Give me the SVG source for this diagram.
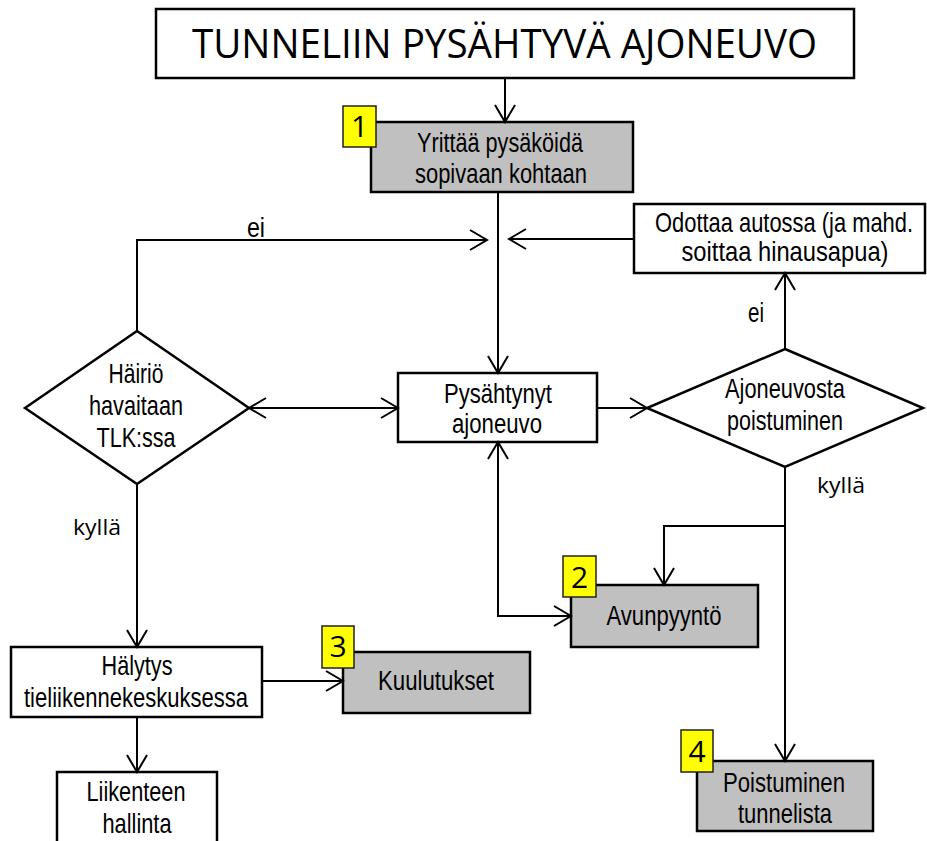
<svg xmlns="http://www.w3.org/2000/svg" width="927" height="841" viewBox="0 0 927 841">
<style>
.box{fill:#ffffff;stroke:#000;stroke-width:2.5}
.gbox{fill:#c0c0c0;stroke:#000;stroke-width:2.5}
.badge{fill:#ffff00;stroke:#222;stroke-width:1.5}
.t{font-family:"Liberation Sans Narrow","Liberation Sans",Arial,sans-serif;font-size:27.5px;fill:#000;text-anchor:middle}
.c{font-family:"Open Sans","Liberation Sans",sans-serif;fill:#000;text-anchor:middle}
.num{font-family:"Open Sans","Liberation Sans",sans-serif;font-size:30px;fill:#000;text-anchor:middle}
.ln{fill:none;stroke:#000;stroke-width:2}
</style>
<defs>
<marker id="ah" viewBox="-19 -12 21 24" refX="0" refY="0" markerWidth="21" markerHeight="24" markerUnits="userSpaceOnUse" orient="auto-start-reverse">
<path d="M-17,-10 L0,0 L-17,10" fill="none" stroke="#000" stroke-width="2"/>
</marker>
</defs>

<g id="title">
<rect class="box" x="156" y="9" width="698" height="69"/>
<text class="c" x="504.5" y="58" font-size="40" textLength="625" lengthAdjust="spacingAndGlyphs">TUNNELIIN PYSÄHTYVÄ AJONEUVO</text>
</g>

<g id="n1">
<rect class="gbox" x="371" y="122" width="262" height="70"/>
<rect class="badge" x="343" y="106" width="33" height="41"/>
<text class="num" x="359.5" y="137">1</text>
<text class="t" x="500" y="152" textLength="166" lengthAdjust="spacingAndGlyphs">Yrittää pysäköidä</text>
<text class="t" x="501" y="183" textLength="172" lengthAdjust="spacingAndGlyphs">sopivaan kohtaan</text>
</g>

<g id="odottaa">
<rect class="box" x="634" y="204" width="291" height="69"/>
<text class="t" x="784" y="232" textLength="258" lengthAdjust="spacingAndGlyphs">Odottaa autossa (ja mahd.</text>
<text class="t" x="785" y="261" textLength="207" lengthAdjust="spacingAndGlyphs">soittaa hinausapua)</text>
</g>

<g id="hairio">
<polygon class="box" points="137,331 249,408 137,484 25,408"/>
<text class="t" x="136" y="383" textLength="55" lengthAdjust="spacingAndGlyphs">Häiriö</text>
<text class="t" x="136" y="415" textLength="94" lengthAdjust="spacingAndGlyphs">havaitaan</text>
<text class="t" x="136" y="447" textLength="79" lengthAdjust="spacingAndGlyphs">TLK:ssa</text>
</g>

<g id="pysahtynyt">
<rect class="box" x="398" y="373" width="199" height="69"/>
<text class="t" x="498" y="403" textLength="108" lengthAdjust="spacingAndGlyphs">Pysähtynyt</text>
<text class="t" x="497" y="433" textLength="90" lengthAdjust="spacingAndGlyphs">ajoneuvo</text>
</g>

<g id="ajoneuvosta">
<polygon class="box" points="785,349 923,408 785,467 647,408"/>
<text class="t" x="785" y="398" textLength="120" lengthAdjust="spacingAndGlyphs">Ajoneuvosta</text>
<text class="t" x="785" y="430" textLength="116" lengthAdjust="spacingAndGlyphs">poistuminen</text>
</g>

<g id="n2">
<rect class="gbox" x="571" y="585" width="187" height="62"/>
<rect class="badge" x="563" y="556" width="33" height="41"/>
<text class="num" x="579.5" y="588">2</text>
<text class="t" x="664" y="625" textLength="115" lengthAdjust="spacingAndGlyphs">Avunpyyntö</text>
</g>

<g id="halytys">
<rect class="box" x="11" y="647" width="251" height="70"/>
<text class="t" x="137" y="675" textLength="71" lengthAdjust="spacingAndGlyphs">Hälytys</text>
<text class="t" x="136" y="707" textLength="224" lengthAdjust="spacingAndGlyphs">tieliikennekeskuksessa</text>
</g>

<g id="n3">
<rect class="gbox" x="343" y="652" width="187" height="61"/>
<rect class="badge" x="322" y="626" width="32" height="42"/>
<text class="num" x="338" y="657">3</text>
<text class="t" x="436" y="690" textLength="116" lengthAdjust="spacingAndGlyphs">Kuulutukset</text>
</g>

<g id="liikenteen">
<rect class="box" x="57" y="772" width="160" height="80"/>
<text class="t" x="136" y="801" textLength="99" lengthAdjust="spacingAndGlyphs">Liikenteen</text>
<text class="t" x="137" y="833" textLength="69" lengthAdjust="spacingAndGlyphs">hallinta</text>
</g>

<g id="n4">
<rect class="gbox" x="697" y="761" width="176" height="70"/>
<rect class="badge" x="681" y="730" width="32" height="42"/>
<text class="num" x="697" y="762">4</text>
<text class="t" x="784" y="792" textLength="122" lengthAdjust="spacingAndGlyphs">Poistuminen</text>
<text class="t" x="785" y="823" textLength="94" lengthAdjust="spacingAndGlyphs">tunnelista</text>
</g>

<g id="connectors">
<path class="ln" d="M505,78 V122" marker-end="url(#ah)"/>
<path class="ln" d="M498,192 V373" marker-end="url(#ah)"/>
<path class="ln" d="M137,331 V240 H487" marker-end="url(#ah)"/>
<path class="ln" d="M634,239 H509" marker-end="url(#ah)"/>
<path class="ln" d="M249,408 H398" marker-start="url(#ah)" marker-end="url(#ah)"/>
<path class="ln" d="M597,408 H647" marker-end="url(#ah)"/>
<path class="ln" d="M785,349 V273" marker-end="url(#ah)"/>
<path class="ln" d="M785,467 V761" marker-end="url(#ah)"/>
<path class="ln" d="M785,526 H664 V585" marker-end="url(#ah)"/>
<path class="ln" d="M498,442 V616 H571" marker-start="url(#ah)" marker-end="url(#ah)"/>
<path class="ln" d="M137,484 V647" marker-end="url(#ah)"/>
<path class="ln" d="M262,681 H343" marker-end="url(#ah)"/>
<path class="ln" d="M137,717 V772" marker-end="url(#ah)"/>
<text class="t" x="256" y="237" font-size="22" textLength="18" lengthAdjust="spacingAndGlyphs">ei</text>
<text class="t" x="756" y="322" font-size="22" textLength="16" lengthAdjust="spacingAndGlyphs">ei</text>
<text class="c" x="841" y="493" font-size="22" textLength="48" lengthAdjust="spacingAndGlyphs">kyllä</text>
<text class="c" x="97" y="535" font-size="22" textLength="48" lengthAdjust="spacingAndGlyphs">kyllä</text>
</g>
</svg>
